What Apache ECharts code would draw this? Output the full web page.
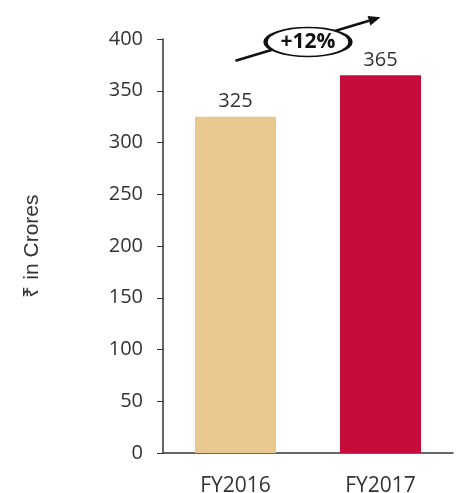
<!DOCTYPE html>
<html>
<head>
<meta charset="utf-8">
<script src="https://cdn.jsdelivr.net/npm/echarts@6/dist/echarts.min.js"></script>
<style>html,body{margin:0;padding:0;background:#fff}#c{width:462px;height:493px}</style>
</head>
<body>
<div id="c"></div>
<script>
var categories = ['FY2016', 'FY2017'];
var revenue = [325, 365];
var barColors = ['#E8C88F', '#C60C3A'];
var growthLabel = '+12%';
var yName = '₹ in Crores';
var yMin = 0, yMax = 400, yStep = 50;
// annotation arrow anchors (value units above bars)
var arrowFrom = ['FY2016', 379];
var arrowTo = ['FY2017', 421];

var chart = echarts.init(document.getElementById('c'));
var font = '"Open Sans", Lato, sans-serif';
chart.setOption({
  animation: false,
  grid: { left: 163, right: 9, top: 39, bottom: 40, containLabel: false, outerBoundsMode: 'none' },
  xAxis: {
    type: 'category', data: categories,
    axisLine: { lineStyle: { color: '#333', width: 1.5 } },
    axisTick: { show: false },
    axisLabel: { color: '#333', fontSize: 21, fontFamily: font, margin: 23 }
  },
  yAxis: {
    type: 'value', min: yMin, max: yMax, interval: yStep,
    name: yName, nameLocation: 'middle', nameRotate: 90, nameGap: 120,
    nameTextStyle: { color: '#333', fontSize: 21, fontFamily: 'Liberation Sans, Arial, sans-serif' },
    axisLine: { show: true, lineStyle: { color: '#333', width: 1.5 } },
    axisTick: { show: true, length: 6, lineStyle: { color: '#333' } },
    axisLabel: { color: '#333', fontSize: 20, fontFamily: font, margin: 20 },
    splitLine: { show: false }
  },
  series: [{
    type: 'bar', barWidth: 81,
    data: revenue.map(function (v, i) { return { value: v, itemStyle: { color: barColors[i] } }; }),
    label: { show: true, position: 'top', color: '#333', fontSize: 20, fontFamily: font, distance: 5 }
  }]
});

var p1 = chart.convertToPixel({ gridIndex: 0 }, arrowFrom);
var p2 = chart.convertToPixel({ gridIndex: 0 }, arrowTo);
var ang = Math.atan2(p2[1] - p1[1], p2[0] - p1[0]);
var hl = 12, hw = 5;
var tip = p2;
var base = [tip[0] - hl * Math.cos(ang), tip[1] - hl * Math.sin(ang)];
var left = [base[0] + hw * Math.sin(ang), base[1] - hw * Math.cos(ang)];
var right = [base[0] - hw * Math.sin(ang), base[1] + hw * Math.cos(ang)];
var mid = [(p1[0] + p2[0]) / 2, (p1[1] + p2[1]) / 2 + 3];
chart.setOption({
  graphic: [
    { type: 'line', shape: { x1: p1[0], y1: p1[1], x2: base[0], y2: base[1] }, style: { stroke: '#111', lineWidth: 2.5 }, z: 10 },
    { type: 'polygon', shape: { points: [tip, left, right] }, style: { fill: '#111' }, z: 10 },
    { type: 'circle', x: mid[0], y: mid[1], scaleX: 2.93, shape: { cx: 0, cy: 0, r: 14.5 }, style: { fill: '#fff', stroke: '#111', lineWidth: 1.5, strokeNoScale: true }, z: 11 },
    { type: 'text', x: mid[0], y: mid[1], style: { text: growthLabel, fill: '#111', font: 'bold 21px ' + font, align: 'center', verticalAlign: 'middle' }, z: 12 }
  ]
});
</script>
</body>
</html>
